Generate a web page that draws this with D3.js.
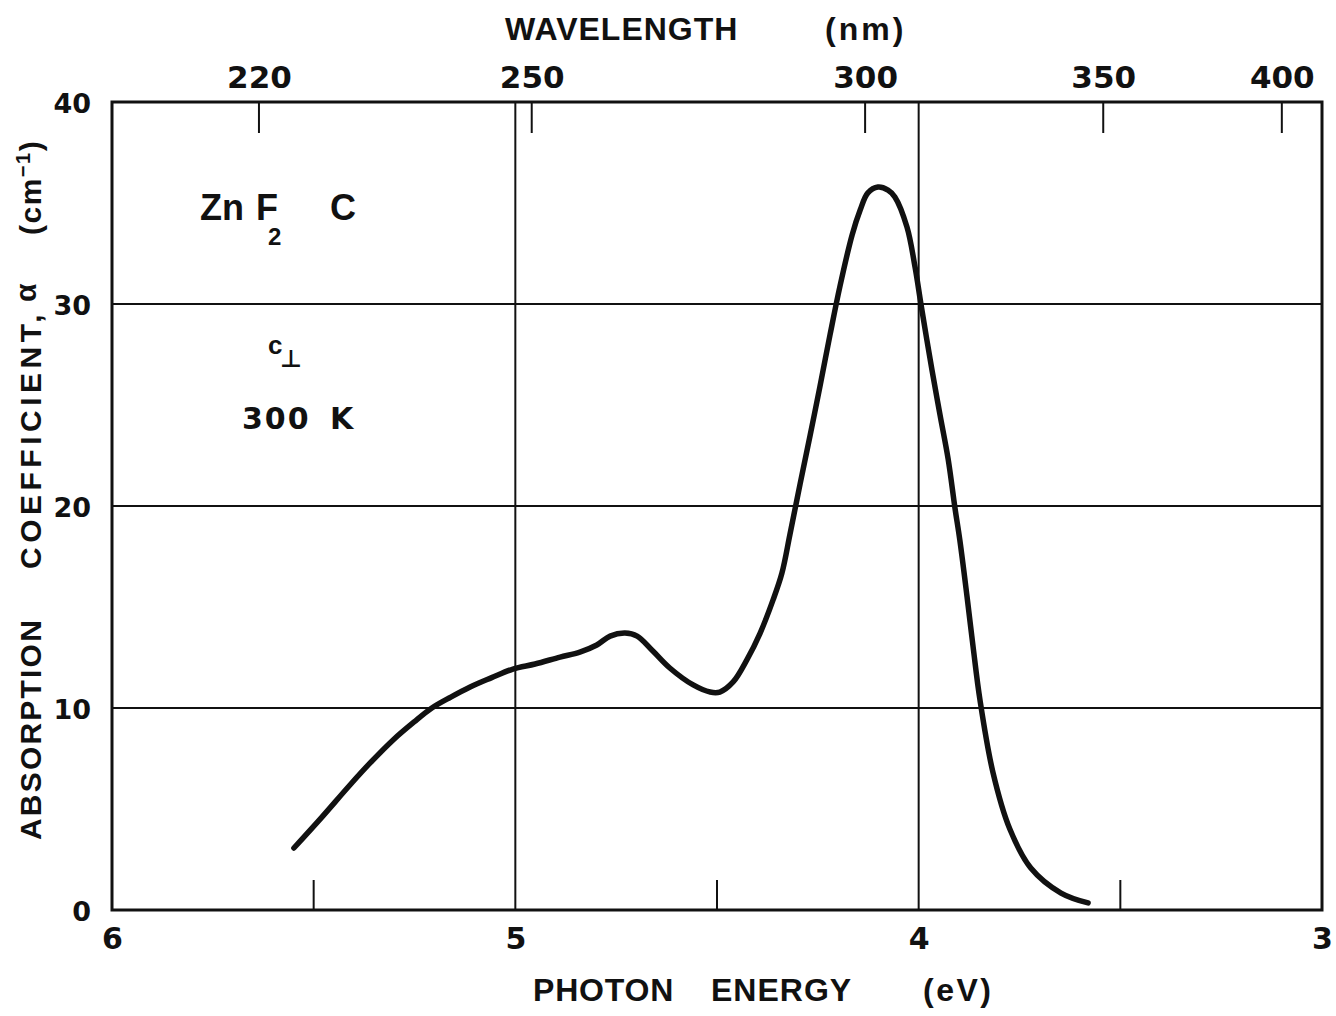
<!DOCTYPE html>
<html>
<head>
<meta charset="utf-8">
<script src="https://cdn.jsdelivr.net/npm/d3@7"></script>
<style>
  html, body { margin: 0; padding: 0; background: #fff; }
  svg { display: block; }
  .num { font-family: "DejaVu Sans", sans-serif; font-weight: bold; fill: #111; }
  .lbl { font-family: "Liberation Sans", Arial, sans-serif; font-weight: bold; fill: #111; }
</style>
</head>
<body>
<svg id="chart" width="1336" height="1016"></svg>
<script>
// Absorption spectrum of ZnF2 (sample C), light polarised perpendicular to c, 300 K
const photonEnergy = [5.549, 5.484, 5.410, 5.360, 5.303, 5.251, 5.207, 5.160, 5.112, 5.060,
  5.006, 4.951, 4.889, 4.840, 4.798, 4.765, 4.728, 4.698, 4.659, 4.617, 4.559, 4.517, 4.493,
  4.460, 4.426, 4.393, 4.361, 4.339, 4.319, 4.294, 4.269, 4.245, 4.220, 4.195, 4.165, 4.145,
  4.126, 4.101, 4.076, 4.059, 4.029, 4.009, 3.994, 3.967, 3.947, 3.927, 3.910, 3.898, 3.880,
  3.865, 3.848, 3.816, 3.774, 3.722, 3.647, 3.580];
const absorption = [3.07, 4.50, 6.19, 7.28, 8.42, 9.31, 10.0, 10.54, 11.04, 11.49,
  11.93, 12.18, 12.52, 12.77, 13.12, 13.56, 13.71, 13.56, 12.82, 11.98, 11.14, 10.79, 10.79,
  11.29, 12.38, 13.71, 15.35, 16.68, 18.61, 21.09, 23.51, 25.89, 28.45, 30.89, 33.42, 34.65,
  35.50, 35.79, 35.64, 35.30, 33.81, 31.83, 29.95, 26.73, 24.50, 22.33, 19.90, 18.32, 15.50,
  13.02, 10.40, 6.83, 4.01, 2.08, 0.84, 0.35];

const energyTicks = [6, 5, 4, 3];
const energyGrid = [5, 4];
const energyMinorTicks = [5.5, 4.5, 3.5];
const alphaTicks = [0, 10, 20, 30, 40];
const alphaGrid = [10, 20, 30];
const wavelengthTicks = [220, 250, 300, 350, 400];
const HC = 1239.84; // eV·nm, converts wavelength to photon energy

const svg = d3.select("#chart");
const plotLeft = 112, plotRight = 1322, plotTop = 102, plotBottom = 910;

const x = d3.scaleLinear().domain([6, 3]).range([plotLeft, plotRight]);
const y = d3.scaleLinear().domain([0, 40]).range([plotBottom, plotTop]);

// grid lines
svg.append("g").selectAll("line").data(energyGrid).join("line")
  .attr("x1", d => x(d)).attr("x2", d => x(d))
  .attr("y1", plotTop).attr("y2", plotBottom)
  .attr("stroke", "#111").attr("stroke-width", 2);
svg.append("g").selectAll("line").data(alphaGrid).join("line")
  .attr("x1", plotLeft).attr("x2", plotRight)
  .attr("y1", d => y(d)).attr("y2", d => y(d))
  .attr("stroke", "#111").attr("stroke-width", 2);

// short ticks: wavelength along the top, half-eV along the bottom
svg.append("g").selectAll("line").data(wavelengthTicks).join("line")
  .attr("x1", d => x(HC / d)).attr("x2", d => x(HC / d))
  .attr("y1", plotTop).attr("y2", plotTop + 31)
  .attr("stroke", "#111").attr("stroke-width", 2);
svg.append("g").selectAll("line").data(energyMinorTicks).join("line")
  .attr("x1", d => x(d)).attr("x2", d => x(d))
  .attr("y1", plotBottom).attr("y2", plotBottom - 30)
  .attr("stroke", "#111").attr("stroke-width", 2);

// frame
svg.append("rect")
  .attr("x", plotLeft).attr("y", plotTop)
  .attr("width", plotRight - plotLeft).attr("height", plotBottom - plotTop)
  .attr("fill", "none").attr("stroke", "#111").attr("stroke-width", 3);

// axes (labels only; the frame is drawn above)
const bottomAxis = svg.append("g").attr("transform", `translate(0,${plotBottom})`)
  .call(d3.axisBottom(x).tickValues(energyTicks).tickSize(0).tickPadding(18).tickFormat(d3.format("d")));
const leftAxis = svg.append("g").attr("transform", `translate(${plotLeft},0)`)
  .call(d3.axisLeft(y).tickValues(alphaTicks).tickSize(0).tickPadding(21).tickFormat(d3.format("d")));
const topAxis = svg.append("g").attr("transform", `translate(0,${plotTop})`)
  .call(d3.axisTop(x).tickValues(wavelengthTicks.map(nm => HC / nm)).tickSize(0).tickPadding(14)
    .tickFormat((d, i) => wavelengthTicks[i]));

[bottomAxis, leftAxis, topAxis].forEach(g => {
  g.select(".domain").remove();
  g.selectAll("text").attr("class", "num").attr("fill", "#111");
});
bottomAxis.selectAll("text").style("font-size", "30px");
leftAxis.selectAll("text").style("font-size", "27px").attr("dy", "0.38em");
topAxis.selectAll("text").style("font-size", "31px");

// spectrum
const pts = photonEnergy.map((e, i) => [e, absorption[i]]);
svg.append("path").datum(pts)
  .attr("d", d3.line().x(d => x(d[0])).y(d => y(d[1])).curve(d3.curveCatmullRom.alpha(0.5)))
  .attr("fill", "none").attr("stroke", "#111").attr("stroke-width", 5.5)
  .attr("stroke-linecap", "round").attr("stroke-linejoin", "round");

// axis titles
svg.append("text").attr("class", "lbl").attr("x", 505).attr("y", 40)
  .style("font-size", "32px").style("letter-spacing", "1px").text("WAVELENGTH");
svg.append("text").attr("class", "lbl").attr("x", 825).attr("y", 40)
  .style("font-size", "32px").style("letter-spacing", "3px").text("(nm)");

const bt = [["PHOTON", 533, 0.8], ["ENERGY", 711, 1], ["(eV)", 923, 2.5]];
svg.append("g").selectAll("text").data(bt).join("text").attr("class", "lbl")
  .attr("x", d => d[1]).attr("y", 1001)
  .style("font-size", "32px").style("letter-spacing", d => d[2] + "px").text(d => d[0]);

// vertical title
const yt = svg.append("g").attr("transform", "translate(41,0)");
const rot = (g, ypos, str, ls) => g.append("text").attr("class", "lbl")
  .attr("transform", `translate(0,${ypos}) rotate(-90)`)
  .style("font-size", "30px").style("letter-spacing", ls + "px").text(str);
rot(yt, 840, "ABSORPTION", 2.2);
rot(yt, 569, "COEFFICIENT,", 4.5);
yt.append("text").attr("class", "lbl")
  .attr("transform", "translate(-5,302) rotate(-90)")
  .style("font-size", "30px").text("α");
const cm = yt.append("text").attr("class", "lbl")
  .attr("transform", "translate(0,235) rotate(-90)")
  .style("font-size", "30px").style("letter-spacing", "1.5px");
cm.append("tspan").text("(cm");
cm.append("tspan").attr("dy", -11).style("font-size", "20px").text("−1");
cm.append("tspan").attr("dy", 11).text(")");

// sample annotations
const ann = svg.append("g");
const znf = ann.append("text").attr("class", "lbl").attr("y", 220).style("font-size", "36px");
znf.append("tspan").attr("x", 200).text("Zn");
znf.append("tspan").attr("x", 256).text("F");
znf.append("tspan").attr("x", 330).text("C");
ann.append("text").attr("class", "lbl").attr("x", 268).attr("y", 245)
  .style("font-size", "24px").text("2");

ann.append("text").attr("class", "lbl").attr("x", 268).attr("y", 354)
  .style("font-size", "26px").text("c");
ann.append("text").attr("class", "num").attr("x", 280).attr("y", 367)
  .style("font-size", "24px").text("⊥");

ann.append("text").attr("class", "num").attr("x", 242).attr("y", 429)
  .style("font-size", "30px").style("letter-spacing", "2px").text("300");
ann.append("text").attr("class", "num").attr("x", 330).attr("y", 429)
  .style("font-size", "30px").text("K");
</script>
</body>
</html>
